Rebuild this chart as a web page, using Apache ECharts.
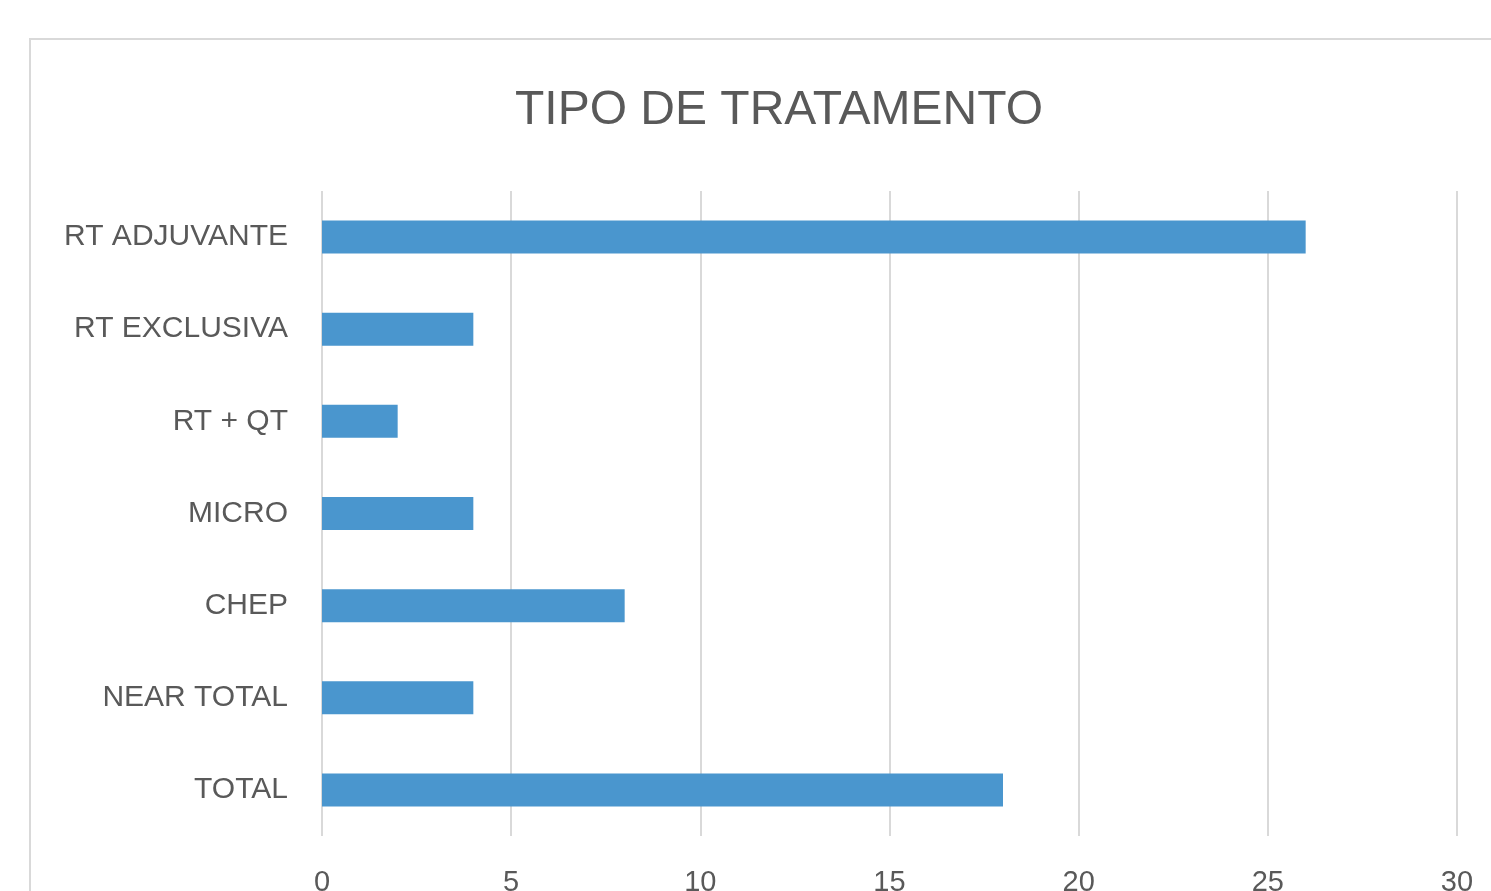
<!DOCTYPE html>
<html>
<head>
<meta charset="utf-8">
<script src="https://cdn.jsdelivr.net/npm/echarts@6/dist/echarts.min.js"></script>
<style>
  html, body { margin: 0; padding: 0; background: #fff; }
  #container { width: 1491px; height: 891px; }
</style>
</head>
<body>
<div id="container"></div>
<script>
// categories top to bottom
let categorias = ['RT ADJUVANTE', 'RT EXCLUSIVA', 'RT + QT', 'MICRO', 'CHEP', 'NEAR TOTAL', 'TOTAL'];
let valores = [26, 4, 2, 4, 8, 4, 18];
let ticksX = [0, 5, 10, 15, 20, 25, 30];

let fonte = '"Liberation Sans", sans-serif';

let dom = document.getElementById('container');
let chart = echarts.init(dom);

chart.setOption({
    animation: false,
    graphic: [{
        type: 'rect',
        shape: {x: 30, y: 39, width: 1600, height: 1000},
        style: {fill: 'none', stroke: '#d9d9d9', lineWidth: 2},
        silent: true,
        z: -1
    }],
    title: {
        text: 'TIPO DE TRATAMENTO',
        left: 774,
        top: 82,
        textAlign: 'center',
        textStyle: {
            fontFamily: fonte,
            fontSize: 48,
            fontWeight: 'normal',
            color: '#595959'
        }
    },
    grid: {
        left: 322,
        right: 34,
        top: 191,
        bottom: 55,
        containLabel: false,
        outerBoundsMode: 'none'
    },
    xAxis: {
        type: 'value',
        min: ticksX[0],
        max: ticksX[ticksX.length - 1],
        interval: 5,
        axisLine: {show: false},
        axisTick: {show: false},
        splitLine: {lineStyle: {color: '#d9d9d9', width: 2}},
        axisLabel: {
            margin: 32,
            fontFamily: fonte,
            fontSize: 29,
            color: '#595959'
        }
    },
    yAxis: {
        type: 'category',
        inverse: true,
        data: categorias,
        axisLine: {show: false},
        axisTick: {show: false},
        axisLabel: {
            margin: 34,
            fontFamily: fonte,
            fontSize: 30,
            color: '#595959'
        }
    },
    series: [{
        type: 'bar',
        data: valores,
        barWidth: 33,
        itemStyle: {color: '#4a96ce'}
    }]
});
</script>
</body>
</html>
